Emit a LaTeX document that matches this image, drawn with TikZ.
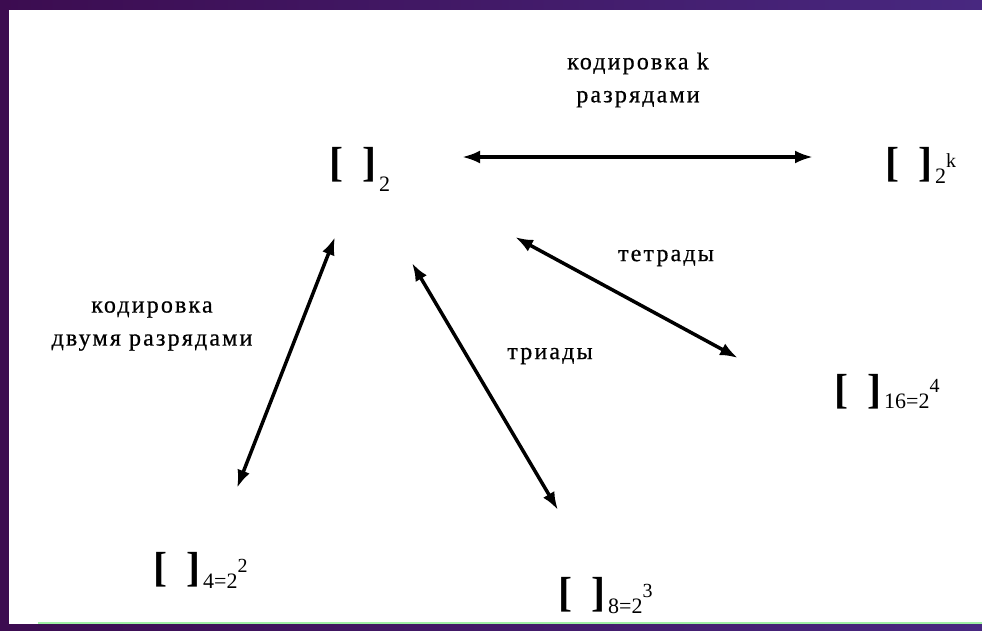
\documentclass[tikz,border=0pt]{standalone}
\usepackage{fontspec}
\setmainfont{Liberation Serif}
\newfontfamily\labfont[LetterSpace=9,FakeBold=0.6]{Liberation Serif}
\usepackage{xcolor}
\usetikzlibrary{arrows.meta,calc}

\definecolor{frameL}{RGB}{60,12,80}
\definecolor{frameR}{RGB}{72,40,128}
\definecolor{rulegreen}{RGB}{160,240,165}

% [ ] with subscript base and optional power
\newcommand{\brk}[3][7pt]{{\fontsize{42}{42}\bfseries\selectfont[\hspace{19pt}]}\hspace{3pt}%
  \raisebox{-#1}{\fontsize{22}{22}\selectfont #2\raisebox{16pt}{\fontsize{20}{20}\selectfont #3}}}

\begin{document}
\begin{tikzpicture}[x=1pt, y=-1pt,
  num/.style={inner sep=0pt, anchor=base west},
  lab/.style={font=\labfont\fontsize{24}{33}\selectfont, align=center, inner sep=0pt},
  dbl/.style={line width=3.5pt, {Latex[length=18pt,width=13pt]}-{Latex[length=18pt,width=13pt]}}]

\useasboundingbox (0,0) rectangle (982,630);
\fill[left color=frameL, right color=frameR] (0,0) rectangle (982,630);
\fill[white] (9,10) rectangle (982,624);
\draw[rulegreen, line width=1.5pt] (38,623) -- (982,623);

\node[num] (b2)  at (329,176) {\brk[15pt]{2}{}};
\node[num] (b2k) at (885,176) {\brk{2}{k}};
\node[num] (b16) at (834,403) {\brk[5pt]{16=2}{4}};
\node[num] (b4)  at (153,581) {\brk{4=2}{2}};
\node[num] (b8)  at (558,606) {\brk{8=2}{3}};

\node[lab] (lk)   at (638,80)  {кодировка k\\разрядами};
\node[lab] (ldv)  at (152,326) {кодировка\\двумя разрядами};
\node[lab] (ltet) at (666,258) {тетрады};
\node[lab] (ltr)  at (550,356) {триады};

\draw[dbl] ($(b2.base west)+(133,-19)$) -- ($(b2k.base west)+(-72,-19)$);
\draw[dbl] ($(b2.base west)+(6,61)$) -- ($(b4.base west)+(84,-93)$);
\draw[dbl] ($(b2.base west)+(83,87)$) -- ($(b8.base west)+(0,-96)$);
\draw[dbl] ($(b2.base west)+(186,61)$) -- ($(b16.base west)+(-96,-45)$);
\end{tikzpicture}
\end{document}
